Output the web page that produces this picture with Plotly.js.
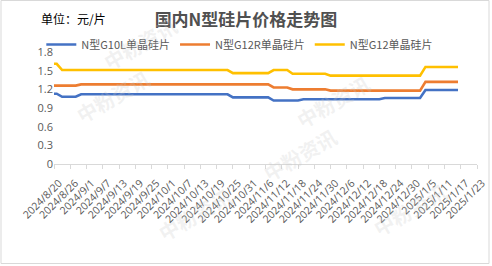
<!DOCTYPE html>
<html>
<head>
<meta charset="utf-8">
<script src="https://cdn.plot.ly/plotly-3.0.1.min.js"></script>
<style>
html,body{margin:0;padding:0;background:#fff;}
#chart{width:492px;height:266px;}
</style>
</head>
<body>
<div id="chart"></div>
<script>
// Report dates
const dates = ['2024-08-20','2024-08-21','2024-08-23','2024-08-28','2024-08-30','2024-10-23','2024-10-25','2024-11-07','2024-11-09','2024-11-14','2024-11-16','2024-11-18','2024-11-20','2024-11-28','2024-11-30','2024-12-18','2024-12-20','2025-01-02','2025-01-04','2025-01-16'];
const seriesNames = ['N型G10L单晶硅片','N型G12R单晶硅片','N型G12单晶硅片'];
const g10l = [1.13,1.13,1.08,1.08,1.12,1.12,1.07,1.07,1.02,1.02,1.02,1.02,1.04,1.04,1.04,1.04,1.06,1.06,1.19,1.19];
const g12r = [1.26,1.26,1.26,1.26,1.28,1.28,1.28,1.28,1.23,1.23,1.20,1.20,1.20,1.20,1.18,1.18,1.18,1.18,1.32,1.32];
const g12  = [1.61,1.61,1.51,1.51,1.51,1.51,1.46,1.46,1.51,1.51,1.45,1.45,1.45,1.45,1.42,1.42,1.42,1.42,1.56,1.56];
const yTicks = [0,0.3,0.6,0.9,1.2,1.5,1.8];
const xStart = '2024-08-20', xEnd = '2025-01-23';
const tickStepDays = 6;

const colors = ['#4472C4','#ED7D31','#FFC000'];
const data = [g10l,g12r,g12].map((v,i)=>({
  type:'scatter', mode:'lines', x:dates, y:v, name:seriesNames[i],
  line:{color:colors[i], width:2.6}, hoverinfo:'skip'
}));

const wm = [
  {x:95,y:8},{x:68,y:132},{x:378,y:66},{x:300,y:190},{x:455,y:245},{x:150,y:250}
].map(p=>({
  text:'中粉资讯', xref:'paper', yref:'paper', showarrow:false,
  x:(p.x-54)/423, y:(164-p.y)/112, textangle:-30,
  font:{family:'Noto Sans CJK SC', size:20, color:'rgba(200,200,200,0.25)', weight:'bold'}
}));

const layout = {
  width:492, height:266,
  margin:{l:54, r:15, t:52, b:102},
  paper_bgcolor:'#fff', plot_bgcolor:'#fff',
  font:{family:'Open Sans, Noto Sans CJK SC', color:'#595959', size:10},
  title:{text:'国内N型硅片价格走势图', xref:'container', x:0.5, xanchor:'center',
    yref:'container', y:1-20/266, yanchor:'middle',
    font:{family:'Noto Sans CJK SC', size:17, color:'#505050', weight:'bold'}},
  showlegend:true,
  legend:{orientation:'h', x:-0.03, xanchor:'left', y:1+(52-30)/112, yanchor:'top',
    font:{family:'Noto Sans CJK SC', size:11, color:'#595959'}, itemwidth:30, tracegroupgap:0,
    bgcolor:'rgba(0,0,0,0)'},
  xaxis:{type:'date', range:[xStart, xEnd], tick0:xStart, dtick:tickStepDays*86400000,
    tickformat:'%Y/%-m/%-d', tickangle:-45, ticks:'outside', ticklen:4, tickcolor:'#d9d9d9',
    ticklabelstandoff:4, ticklabelshift:5,
    showline:true, linecolor:'#d9d9d9', linewidth:1, showgrid:false, zeroline:false,
    tickfont:{family:'Open Sans', size:10.5, color:'#595959'}, fixedrange:true},
  yaxis:{range:[0,1.8], tickvals:yTicks, ticktext:yTicks.map(v=>String(v)),
    showline:false, showgrid:false, zeroline:false, ticks:'',
    tickfont:{family:'Open Sans', size:11, color:'#595959'}, fixedrange:true},
  annotations:[
    {text:'单位：元/片', xref:'paper', yref:'paper', x:(39-54)/423, y:(164-19)/112,
     xanchor:'left', yanchor:'middle', showarrow:false,
     font:{family:'Noto Sans CJK SC', size:12, color:'#000'}}
  ].concat(wm),
  shapes:[
    {type:'rect', xref:'paper', yref:'paper', x0:(1-54)/423, x1:(489-54)/423, y0:(164-263.5)/112, y1:(164-0.5)/112,
     line:{color:'#d9d9d9', width:1}, fillcolor:'rgba(0,0,0,0)'}
  ]
};
Plotly.newPlot('chart', data, layout, {staticPlot:true, displayModeBar:false});
</script>
</body>
</html>
